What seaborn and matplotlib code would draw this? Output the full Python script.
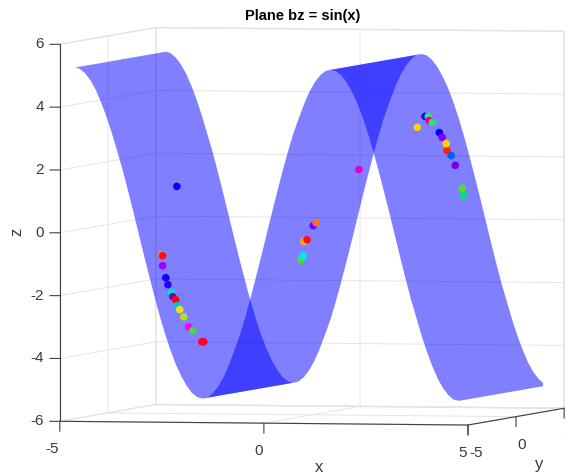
import matplotlib
matplotlib.use('Agg')
from matplotlib import pyplot as plt
from mpl_toolkits.mplot3d import proj3d
from mpl_toolkits.mplot3d.art3d import Poly3DCollection
import seaborn as sns

# profile of the sheet
surface_x = [-4.69, -4.58, -4.45, -4.32, -4.19, -4.06, -3.93, -3.80, -3.67, -3.53, -3.40, -3.27, -3.14,
             -3.01, -2.88, -2.75, -2.62, -2.49, -2.36, -2.23, -2.09, -1.96, -1.83, -1.70, -1.57,
             -1.44, -1.31, -1.18, -1.05, -0.92, -0.79, -0.65, -0.52, -0.39, -0.26, -0.13, 0.0,
             0.13, 0.26, 0.39, 0.52, 0.65, 0.79, 0.92, 1.05, 1.18, 1.31, 1.44, 1.57,
             1.70, 1.83, 1.96, 2.09, 2.23, 2.36, 2.49, 2.62, 2.75, 2.88, 3.01, 3.14,
             3.27, 3.40, 3.53, 3.67, 3.80, 3.93, 4.06, 4.19, 4.32, 4.45, 4.58, 4.71]
surface_z = [5.25, 5.21, 5.07, 4.85, 4.55, 4.16, 3.71, 3.20, 2.63, 2.01, 1.36, 0.69, 0.0,
             -0.69, -1.36, -2.01, -2.63, -3.20, -3.71, -4.16, -4.55, -4.85, -5.07, -5.21, -5.25,
             -5.21, -5.07, -4.85, -4.55, -4.16, -3.71, -3.20, -2.63, -2.01, -1.36, -0.69, 0.0,
             0.69, 1.36, 2.01, 2.63, 3.20, 3.71, 4.16, 4.55, 4.85, 5.07, 5.21, 5.25,
             5.21, 5.07, 4.85, 4.55, 4.16, 3.71, 3.20, 2.63, 2.01, 1.36, 0.69, 0.0,
             -0.69, -1.36, -2.01, -2.63, -3.20, -3.71, -4.16, -4.55, -4.85, -5.07, -5.21, -5.25]
surface_y = [-4.71, 4.71]

point_x = [-3.31, -3.66, -3.68, -3.66, -3.58, -3.53, -3.44, -3.46, -3.41, -3.34, -3.31, -3.24, -3.14,
           -3.02, -2.92, -2.70, -2.65, 1.15, 0.10, 0.03, -0.12, -0.20, -0.22, -0.27,
           2.58, 2.77, 2.85, 2.87, 2.95, 3.12, 3.19, 3.29, 3.31, 3.41, 3.51, 3.68, 3.71]
point_z = [1.23, -0.98, -0.95, -1.30, -1.68, -1.90, -2.15, -2.19, -2.28, -2.38, -2.57, -2.69, -2.92,
           -3.24, -3.36, -3.71, -3.71, 1.82, 0.12, 0.02, -0.43, -0.49, -0.94, -1.07,
           3.18, 3.53, 3.53, 3.40, 3.34, 3.02, 2.87, 2.67, 2.45, 2.29, 1.98, 1.25, 1.02]
point_colors = ['#0000ff', '#ff1010', '#ff9020', '#a000ff', '#1000ff', '#2800ff', '#00e0e0', '#00c878',
                '#8000c0', '#ff0010', '#00c8c8', '#e8e020', '#b0e020', '#ff00e0', '#40e040', '#ff0020',
                '#ff0030', '#e000c0', '#ff7020', '#7000ff', '#ff1010', '#ffa020', '#00e8ff', '#50e020',
                '#ffd000', '#0010ff', '#40e060', '#e000a0', '#30e070', '#0000ff', '#8000ff', '#ffd000',
                '#ff2000', '#0060ff', '#7000f0', '#50e030', '#00e080']

x_ticks = [-5, 0, 5]
y_ticks = [-5, 0, 5]
z_ticks = [-6, -4, -2, 0, 2, 4, 6]
TEXT_COLOR = '#3a3a3a'

sns.set_style('white')
plt.rcParams['font.family'] = ['Liberation Sans', 'DejaVu Sans']

fig = plt.figure(figsize=(5.67, 4.74), dpi=100)
ax = fig.add_axes([0.0389, 0.0091, 1.0, 1.0], projection='3d', computed_zorder=False)
ax.patch.set_alpha(0)
ax.set_proj_type('ortho')
ax.view_init(elev=2.28, azim=-77.13)
ax.set_box_aspect((417.9, 430.9, 376.6), zoom=1.454)

# one polygon per branch of the curve, so only the folds overlap
polys = []
for lo, hi in [(0, 25), (24, 49), (48, 73)]:
    xs = surface_x[lo:hi]
    zs = surface_z[lo:hi]
    front = [(a, surface_y[0], b) for a, b in zip(xs, zs)]
    back = [(a, surface_y[1], b) for a, b in zip(xs, zs)]
    polys.append(front + back[::-1])
sheet = Poly3DCollection(polys, facecolors=(0, 0, 1, 0.5), edgecolors='none', linewidths=0, zorder=1)
ax.add_collection3d(sheet)

ax.scatter(point_x, [0] * len(point_x), point_z, c=point_colors, s=30, depthshade=False,
           linewidths=0, alpha=1, zorder=2)

ax.set_xlim(-5, 5, view_margin=0)
ax.set_ylim(-5, 5, view_margin=0)
ax.set_zlim(-6, 6, view_margin=0)
ax.set_xticks(x_ticks)
ax.set_yticks(y_ticks)
ax.set_zticks(z_ticks)
ax.set_xticklabels([])
ax.set_yticklabels([])
ax.set_zticklabels([])
ax.zaxis.set_ticks_position('lower')

for axis in [ax.xaxis, ax.yaxis, ax.zaxis]:
    axis.set_pane_color((1, 1, 1, 1))
    axis.pane.set_edgecolor('#e4e4e4')
    axis.line.set_color('#404040')
    axis.line.set_linewidth(0.8)
    axis._axinfo['grid'].update(color='#e4e4e4', linewidth=0.7)
    axis._axinfo['tick'].update(inward_factor=0.0, outward_factor=0.0)
ax.tick_params(width=0, length=0)


def draw_tick(point, label, tick_offset, label_offset, ha):
    # the tick marks go straight down or left on screen, which Axes3D can't do
    px, py, _ = proj3d.proj_transform(point[0], point[1], point[2], ax.get_proj())
    ax.annotate('', xy=(px, py), xytext=tick_offset, textcoords='offset pixels', annotation_clip=False,
                arrowprops=dict(arrowstyle='-', color='#404040', lw=0.8, shrinkA=0, shrinkB=0))
    ax.annotate(str(label), xy=(px, py), xytext=label_offset, textcoords='offset pixels', ha=ha, va='center',
                fontsize=11, color=TEXT_COLOR, annotation_clip=False)


for t in x_ticks:
    draw_tick((t, -5, -6), t, (0, -10), (-1, -28), 'right')
for t in y_ticks:
    draw_tick((5, t, -6), t, (0, -10), (1.5, -28), 'left')
for t in z_ticks:
    draw_tick((-5, -5, t), t, (-10, 0), (-16, 0), 'right')

fig.text(319 / 567, 1 - 467 / 474, 'x', fontsize=12, color=TEXT_COLOR, ha='center', va='center')
fig.text(539 / 567, 1 - 464 / 474, 'y', fontsize=12, color=TEXT_COLOR, ha='center', va='center')
fig.text(17 / 567, 1 - 232 / 474, 'z', fontsize=12, color=TEXT_COLOR, ha='center', va='center', rotation=90)
fig.text(303 / 567, 0.966, 'Plane bz = sin(x)', fontsize=10.5, fontweight='bold', ha='center', va='center',
         color='black')

fig.savefig('out.png', dpi=100)
